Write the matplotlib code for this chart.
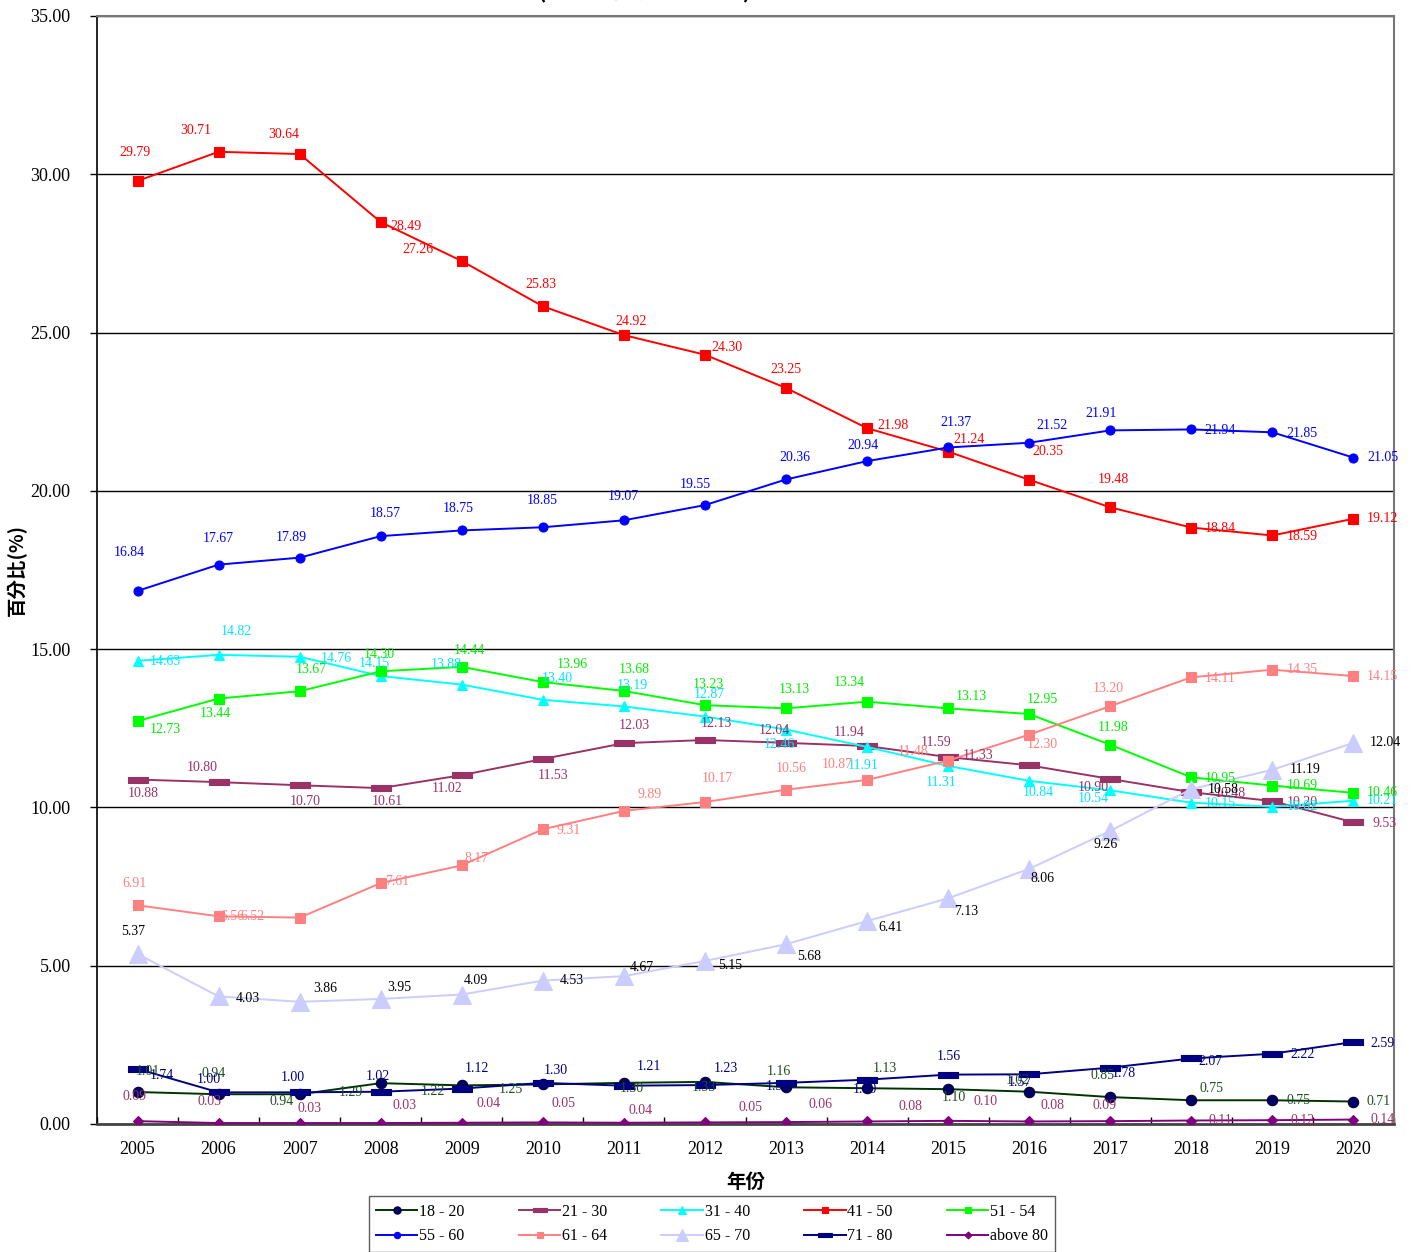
import matplotlib
matplotlib.use("Agg")
import matplotlib.pyplot as plt
from matplotlib.path import Path
import numpy as np

years = [2005, 2006, 2007, 2008, 2009, 2010, 2011, 2012, 2013, 2014, 2015, 2016, 2017, 2018, 2019, 2020]
series_names = ["18 - 20", "21 - 30", "31 - 40", "41 - 50", "51 - 54",
                "55 - 60", "61 - 64", "65 - 70", "71 - 80", "above 80"]

v18_20 = [1.01, 0.94, 0.94, 1.29, 1.22, 1.25, 1.30, 1.33, 1.16, 1.13, 1.10, 1.02, 0.85, 0.75, 0.75, 0.71]
v21_30 = [10.88, 10.80, 10.70, 10.61, 11.02, 11.53, 12.03, 12.13, 12.04, 11.94, 11.59, 11.33, 10.90, 10.48, 10.20, 9.53]
v31_40 = [14.63, 14.82, 14.76, 14.15, 13.88, 13.40, 13.19, 12.87, 12.46, 11.91, 11.31, 10.84, 10.54, 10.15, 10.02, 10.21]
v41_50 = [29.79, 30.71, 30.64, 28.49, 27.26, 25.83, 24.92, 24.30, 23.25, 21.98, 21.24, 20.35, 19.48, 18.84, 18.59, 19.12]
v51_54 = [12.73, 13.44, 13.67, 14.30, 14.44, 13.96, 13.68, 13.23, 13.13, 13.34, 13.13, 12.95, 11.98, 10.95, 10.69, 10.46]
v55_60 = [16.84, 17.67, 17.89, 18.57, 18.75, 18.85, 19.07, 19.55, 20.36, 20.94, 21.37, 21.52, 21.91, 21.94, 21.85, 21.05]
v61_64 = [6.91, 6.56, 6.52, 7.61, 8.17, 9.31, 9.89, 10.17, 10.56, 10.87, 11.48, 12.30, 13.20, 14.11, 14.35, 14.15]
v65_70 = [5.37, 4.03, 3.86, 3.95, 4.09, 4.53, 4.67, 5.15, 5.68, 6.41, 7.13, 8.06, 9.26, 10.58, 11.19, 12.04]
v71_80 = [1.74, 1.00, 1.00, 1.02, 1.12, 1.30, 1.21, 1.23, 1.30, 1.40, 1.56, 1.57, 1.78, 2.07, 2.22, 2.59]
v80up = [0.09, 0.03, 0.03, 0.03, 0.04, 0.05, 0.04, 0.05, 0.06, 0.08, 0.10, 0.08, 0.09, 0.11, 0.12, 0.14]

all_values = [v18_20, v21_30, v31_40, v41_50, v51_54, v55_60, v61_64, v65_70, v71_80, v80up]

# label offsets in pixels (dx, dy up)
offs = {
    "41 - 50": [(-3, 28), (-23, 21), (-16, 20), (25, -4), (-44, 12), (-2, 22), (7, 14), (22, 7), (0, 18), (26, 3), (21, 12), (19, 28), (3, 28), (29, -1), (30, -1), (29, 0)],
    "55 - 60": [(-8, 38), (0, 26), (-8, 20), (5, 23), (-4, 22), (-1, 27), (-1, 24), (-10, 21), (9, 22), (-4, 16), (8, 25), (23, 17), (-9, 17), (29, -1), (30, -1), (29, 0)],
    "31 - 40": [(28, -1), (18, 23), (37, -2), (-6, 13), (-16, 20), (14, 21), (8, 21), (4, 22), (-7, -15), (-4, -19), (-7, -17), (9, -12), (-17, -8), (29, -1), (30, 0), (29, 0)],
    "51 - 54": [(28, -8), (-3, -15), (12, 22), (-1, 17), (8, 16), (29, 18), (10, 21), (3, 21), (8, 19), (-18, 19), (23, 12), (13, 15), (3, 17), (29, -1), (30, 0), (29, 0)],
    "21 - 30": [(6, -14), (-16, 15), (6, -16), (7, -13), (-15, -13), (10, -17), (10, 18), (11, 16), (-12, 12), (-18, 14), (-12, 15), (-51, 10), (-17, -9), (39, -1), (30, -1), (31, -1)],
    "61 - 64": [(-3, 22), (14, 0), (-47, 1), (16, 2), (15, 7), (26, -1), (26, 16), (12, 24), (5, 21), (-30, 15), (-35, 9), (13, -10), (-2, 18), (29, -1), (30, 0), (29, 0)],
    "65 - 70": [(-4, 23), (29, -2), (26, 13), (19, 11), (14, 14), (29, 0), (18, 9), (25, -5), (23, -12), (23, -6), (18, -13), (13, -10), (-5, -14), (32, 0), (33, 0), (32, 0)],
    "18 - 20": [(10, 21), (-5, 21), (-18, -7), (-30, -9), (-29, -6), (-32, -5), (8, -6), (-1, -6), (-7, 16), (18, 20), (6, -8), (-11, 11), (-8, 22), (20, 12), (26, 0), (25, 0)],
    "71 - 80": [(24, -7), (-10, 13), (-7, 15), (-3, 15), (15, 20), (13, 12), (25, 19), (21, 17), (-8, -4), (-2, -10), (1, 18), (-9, -8), (14, -6), (19, -3), (30, -1), (29, -1)],
    "above 80": [(-3, 25), (-9, 22), (10, 15), (24, 18), (27, 19), (21, 19), (17, 12), (46, 15), (34, 18), (43, 15), (37, 19), (23, 16), (-6, 16), (29, 0), (30, 0), (29, 0)],
}

dash = Path([(-1, -0.25), (1, -0.25), (1, 0.25), (-1, 0.25), (-1, -0.25)],
            [Path.MOVETO, Path.LINETO, Path.LINETO, Path.LINETO, Path.CLOSEPOLY])

styles = {
    "18 - 20": dict(color="#003300", marker="o", mfc="#000066", mec="#000033", ms=7.5, lab="#1f4f1f"),
    "21 - 30": dict(color="#993366", marker=dash, mfc="#993366", mec="#993366", ms=15, lab="#993366"),
    "31 - 40": dict(color="#00FFFF", marker="^", mfc="#00FFFF", mec="#00FFFF", ms=7.5, lab="#00E5FF"),
    "41 - 50": dict(color="#FF0000", marker="s", mfc="#FF0000", mec="#FF0000", ms=6.5, lab="#FF0000"),
    "51 - 54": dict(color="#00FF00", marker="s", mfc="#00FF00", mec="#00FF00", ms=7, lab="#00EE00"),
    "55 - 60": dict(color="#0000FF", marker="o", mfc="#0000FF", mec="#0000FF", ms=6.5, lab="#0000FF"),
    "61 - 64": dict(color="#FF8080", marker="s", mfc="#FF8080", mec="#FF8080", ms=7, lab="#FF8080"),
    "65 - 70": dict(color="#CCCCFF", marker="^", mfc="#CCCCFF", mec="#CCCCFF", ms=13, lab="#000000"),
    "71 - 80": dict(color="#000080", marker=dash, mfc="#000080", mec="#000080", ms=15, lab="#000080"),
    "above 80": dict(color="#800080", marker="D", mfc="#800080", mec="#800080", ms=5, lab="#993366"),
}

NUMF = "Liberation Serif"
CJK = ["Noto Sans CJK TC", "DejaVu Sans"]

fig = plt.figure(figsize=(14.16, 12.52), dpi=100)
ax = fig.add_axes([97 / 1416, 1 - 1124 / 1252, (1394 - 97) / 1416, (1124 - 16) / 1252])

xs = np.arange(len(years))
handles = []
for name, vals in zip(series_names, all_values):
    st = styles[name]
    h, = ax.plot(xs, vals, color=st["color"], lw=1.4, marker=st["marker"], ms=st["ms"],
                 mfc=st["mfc"], mec=st["mec"], mew=0.8, label=name, zorder=3)
    handles.append(h)
    for i, v in enumerate(vals):
        dx, dy = offs[name][i]
        ax.annotate(f"{v:.2f}", (xs[i], v), xytext=(dx, dy), textcoords="offset pixels",
                    ha="center", va="center", fontsize=10, family=NUMF,
                    color=st["lab"], zorder=4)

ax.set_xlim(-0.5, len(years) - 0.5)
ax.set_ylim(0, 35)
ax.set_yticks(np.arange(0, 35.01, 5))
ax.set_yticklabels([f"{t:.2f}" for t in np.arange(0, 35.01, 5)], family=NUMF, fontsize=13)
ax.set_xticks(xs)
ax.set_xticklabels([str(y) for y in years], family=NUMF, fontsize=13)
ax.tick_params(axis="x", length=0, pad=12)
ax.set_xticks(np.arange(-0.5, len(years)), minor=True)
ax.tick_params(axis="x", which="minor", direction="in", length=5, width=1, color="black")
ax.tick_params(axis="y", length=5, width=1, direction="out", pad=14)
ax.grid(axis="y", color="black", lw=1.0, zorder=1)
for s in ["top", "right"]:
    ax.spines[s].set_color("#777777")
    ax.spines[s].set_linewidth(1.5)
ax.spines["left"].set_color("black")
ax.spines["left"].set_linewidth(1.2)
ax.spines["bottom"].set_color("#444444")
ax.spines["bottom"].set_linewidth(2.0)

ax.set_xlabel("年份", family=CJK, fontsize=14, fontweight="bold", labelpad=11)
ax.set_ylabel("百分比(%)", family=CJK, fontsize=14, fontweight="bold", labelpad=4)
ax.yaxis.set_label_coords(-0.054, 0.5)

fig.text(645 / 1416, 1 + 9 / 1252, "(根據登記表 - 結果表)", ha="center", va="center",
         family=CJK, fontsize=16, fontweight="bold")

order = [0, 5, 1, 6, 2, 7, 3, 8, 4, 9]
leg = fig.legend([handles[i] for i in order], [series_names[i] for i in order],
                 ncol=5, loc="center", bbox_to_anchor=(712 / 1416, 1 - 1224 / 1252),
                 prop={"family": NUMF, "size": 11.5}, frameon=True, fancybox=False,
                 edgecolor="#333333", handlelength=2.6, columnspacing=3.4,
                 handletextpad=0.1, borderpad=0.45, labelspacing=0.55, markerscale=0.7,
                 borderaxespad=0)
leg.get_frame().set_linewidth(1.0)

fig.savefig("out.png", dpi=100)
